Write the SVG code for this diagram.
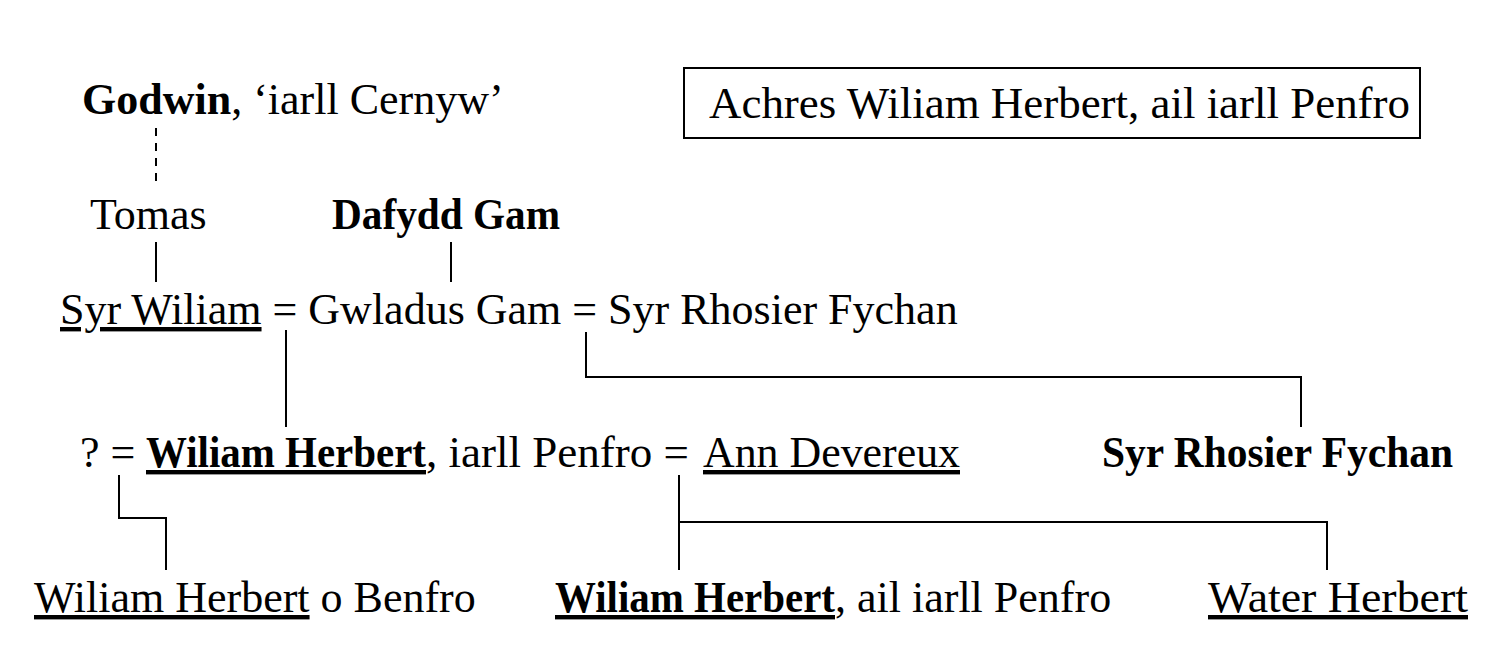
<svg xmlns="http://www.w3.org/2000/svg" width="1512" height="666" viewBox="0 0 1512 666">
<style>
text{font-family:"Liberation Serif","Times New Roman",serif;font-size:44px;fill:#000}
.b{font-weight:bold}
.u{text-decoration:underline}
.ln{stroke:#000;stroke-width:2;fill:none}
.dash{stroke-dasharray:8 7}
</style>
<rect width="1512" height="666" fill="#fff"/>
<g id="title">
<rect x="684" y="68" width="736" height="70" fill="none" stroke="#000" stroke-width="2"/>
<text x="709" y="118" textLength="701" lengthAdjust="spacingAndGlyphs">Achres Wiliam Herbert, ail iarll Penfro</text>
</g>
<g id="godwin"><text x="82" y="114"><tspan class="b">Godwin</tspan>, ‘iarll Cernyw’</text></g>
<g id="tomas"><text x="90" y="229">Tomas</text></g>
<g id="dafydd"><text x="332" y="229" class="b" textLength="228" lengthAdjust="spacingAndGlyphs">Dafydd Gam</text></g>
<g id="gwladus"><text x="60" y="324"><tspan class="u">Syr Wiliam</tspan> = Gwladus Gam = Syr Rhosier Fychan</text></g>
<g id="wiliam1">
<text x="80" y="467">? =</text>
<text x="146" y="467" class="b u" textLength="280" lengthAdjust="spacingAndGlyphs">Wiliam Herbert</text>
<text x="426" y="467" textLength="263" lengthAdjust="spacingAndGlyphs">, iarll Penfro =</text>
<text x="703" y="467" class="u" textLength="257" lengthAdjust="spacingAndGlyphs">Ann Devereux</text>
</g>
<g id="rhosier"><text x="1102" y="467" class="b" textLength="351" lengthAdjust="spacingAndGlyphs">Syr Rhosier Fychan</text></g>
<g id="benfro"><text x="34" y="612"><tspan class="u">Wiliam Herbert</tspan> o Benfro</text></g>
<g id="wiliam2">
<text x="555" y="612" class="b u" textLength="280" lengthAdjust="spacingAndGlyphs">Wiliam Herbert</text>
<text x="835" y="612">, ail iarll Penfro</text>
</g>
<g id="water"><text x="1208" y="612" class="u" textLength="260" lengthAdjust="spacingAndGlyphs">Water Herbert</text></g>
<g id="connectors">
<line class="ln dash" x1="156" y1="128" x2="156" y2="185"/>
<line class="ln" x1="156" y1="242" x2="156" y2="282"/>
<line class="ln" x1="451" y1="242" x2="451" y2="282"/>
<line class="ln" x1="286" y1="330" x2="286" y2="427"/>
<polyline class="ln" points="586,332 586,377 1301,377 1301,427"/>
<polyline class="ln" points="119,475 119,518 166,518 166,570"/>
<line class="ln" x1="679" y1="475" x2="679" y2="570"/>
<polyline class="ln" points="679,522 1327,522 1327,570"/>
</g>
</svg>
